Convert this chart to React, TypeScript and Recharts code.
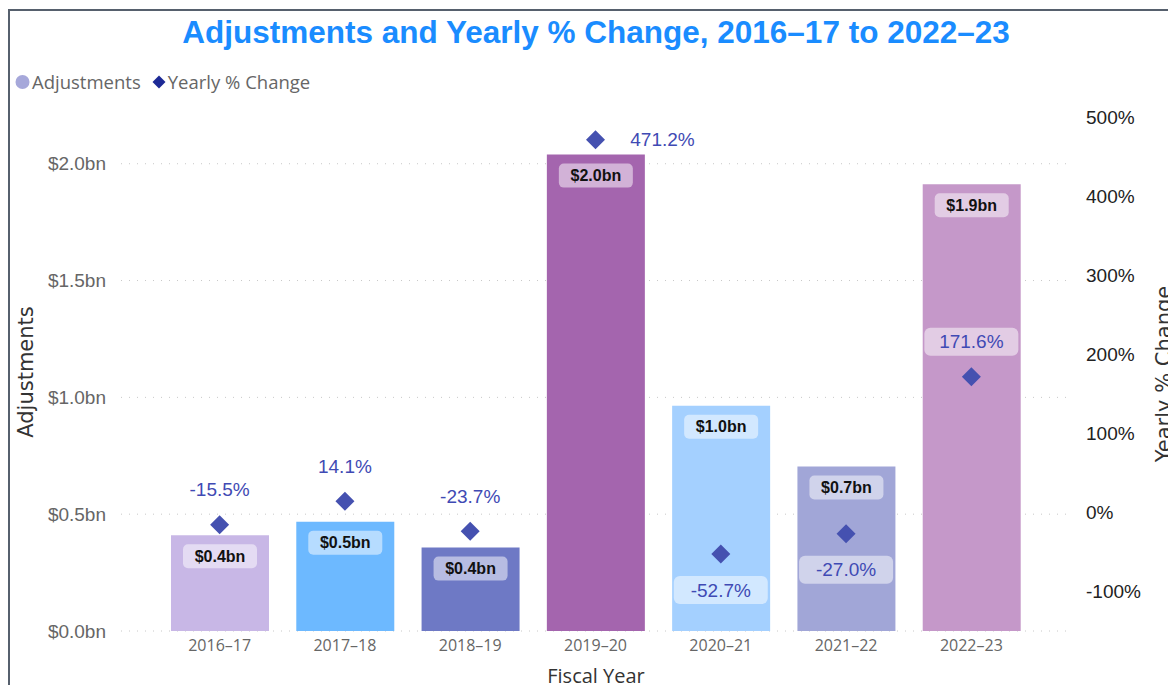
import React from "react";
import {
  Bar,
  CartesianGrid,
  Cell,
  ComposedChart,
  LabelList,
  Line,
  XAxis,
  YAxis,
} from "recharts";

const categories = ["2016–17", "2017–18", "2018–19", "2019–20", "2020–21", "2021–22", "2022–23"];
const adjustments = [0.41, 0.468, 0.357, 2.039, 0.964, 0.704, 1.912]; // $bn
const yearlyChange = [-15.5, 14.1, -23.7, 471.2, -52.7, -27.0, 171.6]; // %
const leftTicks = [0, 0.5, 1, 1.5, 2];
const rightTicks = [-100, 0, 100, 200, 300, 400, 500];

const barColors = ["#C8B7E6", "#6DB9FF", "#6E79C5", "#A465AE", "#A4D0FF", "#A1A6D7", "#C598C9"];
// where each % label sits relative to its diamond
const pctSide = ["above", "above", "above", "right", "below", "below", "above"];

const data = categories.map((year, i) => ({
  year,
  adj: adjustments[i],
  pct: yearlyChange[i],
}));

const ARIAL = "'Liberation Sans', Arial, sans-serif";
const SEGOE = "'Open Sans', 'Noto Sans', sans-serif";

const BarValueLabel = (props: any) => {
  const { x, y, width, value } = props;
  const cx = x + width / 2;
  const cy = y + 21;
  return (
    <g>
      <rect x={cx - 37} y={cy - 12} width={74} height={24} rx={5} fill="#fff" fillOpacity={0.5} />
      <text
        x={cx}
        y={cy}
        textAnchor="middle"
        dominantBaseline="central"
        fontFamily={ARIAL}
        fontWeight={700}
        fontSize={16}
        fill="#111"
      >
        {`$${Number(value).toFixed(1)}bn`}
      </text>
    </g>
  );
};

const PctLabel = (props: any) => {
  const { x, y, value, index } = props;
  const side = pctSide[index];
  let cx = x;
  let cy = y;
  if (side === "above") cy = y - 35;
  if (side === "below") cy = y + 36;
  if (side === "right") cx = x + 67;
  return (
    <g>
      {side !== "right" && (
        <rect x={cx - 47} y={cy - 14} width={94} height={28} rx={6} fill="#fff" fillOpacity={0.5} />
      )}
      <text
        x={cx}
        y={cy}
        textAnchor="middle"
        dominantBaseline="central"
        fontFamily={ARIAL}
        fontSize={19}
        fill="#3F4AB4"
      >
        {`${Number(value).toFixed(1)}%`}
      </text>
    </g>
  );
};

const Diamond = (props: any) => {
  const { cx, cy, index } = props;
  if (cx == null || cy == null) return <g key={index} />;
  const r = 9.5;
  return (
    <path
      key={index}
      d={`M${cx},${cy - r}L${cx + r},${cy}L${cx},${cy + r}L${cx - r},${cy}Z`}
      fill="#4551B0"
    />
  );
};

// dotted grid lines run a bit past the plot, as in Power BI
const GridLine = (props: any) => {
  const { x1, x2, y1, y2, index } = props;
  return (
    <line
      key={`g-${index}`}
      x1={x1 - 36}
      x2={x2 + 38}
      y1={y1}
      y2={y2}
      stroke="#C8C8C8"
      strokeDasharray="1 7"
    />
  );
};

const App: React.FC = () => {
  return (
    <div style={{ position: "absolute", left: 0, top: 0, width: 1168, height: 685, background: "#fff" }}>
      <div
        style={{
          position: "absolute",
          left: 8,
          top: 9,
          right: 0,
          bottom: 0,
          borderTop: "2px solid #56606D",
          borderLeft: "2px solid #56606D",
        }}
      />
      <div
        style={{
          position: "absolute",
          left: 0,
          top: 13,
          width: 1192,
          textAlign: "center",
          fontFamily: ARIAL,
          fontWeight: 700,
          fontSize: 31.5,
          color: "#1A8CFF",
          lineHeight: "38px",
        }}
      >
        Adjustments and Yearly % Change, 2016–17 to 2022–23
      </div>
      <div
        style={{
          position: "absolute",
          left: 14,
          top: 69,
          display: "flex",
          alignItems: "center",
          fontFamily: SEGOE,
          fontSize: 18.5,
          color: "#666",
          lineHeight: "26px",
        }}
      >
        <svg width={17} height={16} style={{ marginRight: 1 }}>
          <circle cx={8.5} cy={8} r={7} fill="#A6A8DA" />
        </svg>
        <span>Adjustments</span>
        <svg width={16} height={16} style={{ marginLeft: 10, marginRight: 1 }}>
          <path d="M8,1.5L14.5,8L8,14.5L1.5,8Z" fill="#1D2A96" />
        </svg>
        <span>Yearly % Change</span>
      </div>

      <div style={{ position: "absolute", left: 0, top: 0 }}>
        <ComposedChart
          width={1168}
          height={685}
          data={data}
          margin={{ top: 117, right: 0, bottom: 0, left: 0 }}
        >
          <CartesianGrid
            yAxisId="left"
            vertical={false}
            horizontalValues={leftTicks}
            horizontal={<GridLine />}
          />
          <XAxis
            dataKey="year"
            height={54}
            axisLine={false}
            tickLine={false}
            tickSize={0}
            tickMargin={9}
            tick={{ fill: "#666", fontSize: 16, fontFamily: SEGOE }}
          />
          <YAxis
            yAxisId="left"
            width={157}
            domain={[0, 2.2]}
            ticks={leftTicks}
            axisLine={false}
            tickLine={false}
            tickSize={0}
            tickMargin={51}
            tickFormatter={(v: number) => `$${v.toFixed(1)}bn`}
            tick={{ fill: "#666", fontSize: 19, fontFamily: ARIAL }}
          />
          <YAxis
            yAxisId="right"
            orientation="right"
            width={134}
            domain={[-150, 500]}
            ticks={rightTicks}
            axisLine={false}
            tickLine={false}
            tickSize={0}
            tickMargin={52}
            tickFormatter={(v: number) => `${v}%`}
            tick={{ fill: "#222", fontSize: 19, fontFamily: ARIAL }}
          />
          <Bar yAxisId="left" dataKey="adj" barSize={98} isAnimationActive={false}>
            {data.map((d, i) => (
              <Cell key={d.year} fill={barColors[i]} />
            ))}
            <LabelList dataKey="adj" content={<BarValueLabel />} />
          </Bar>
          <Line
            yAxisId="right"
            dataKey="pct"
            stroke="none"
            dot={<Diamond />}
            activeDot={false}
            isAnimationActive={false}
          >
            <LabelList dataKey="pct" content={<PctLabel />} />
          </Line>
        </ComposedChart>
      </div>

      <div
        style={{
          position: "absolute",
          left: 26,
          top: 372,
          transform: "translate(-50%, -50%) rotate(-90deg)",
          fontFamily: "'DejaVu Sans', sans-serif",
          fontSize: 21,
          color: "#333",
          whiteSpace: "nowrap",
        }}
      >
        Adjustments
      </div>
      <div
        style={{
          position: "absolute",
          left: 1164,
          top: 374,
          transform: "translate(-50%, -50%) rotate(-90deg)",
          fontFamily: "'DejaVu Sans', sans-serif",
          fontSize: 21,
          color: "#333",
          whiteSpace: "nowrap",
        }}
      >
        Yearly % Change
      </div>
      <div
        style={{
          position: "absolute",
          left: 596,
          top: 675,
          transform: "translate(-50%, -50%)",
          fontFamily: SEGOE,
          fontSize: 20,
          color: "#333",
          whiteSpace: "nowrap",
        }}
      >
        Fiscal Year
      </div>
    </div>
  );
};

export default App;
